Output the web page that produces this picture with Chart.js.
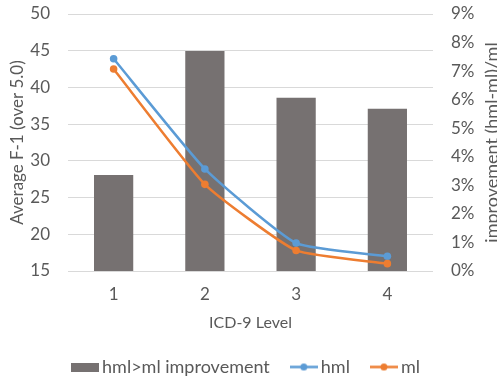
<!DOCTYPE html>
<html>
<head>
<meta charset="utf-8">
<script src="https://cdn.jsdelivr.net/npm/chart.js@4.4.1/dist/chart.umd.min.js"></script>
<style>
  html, body { margin: 0; padding: 0; background: #ffffff; }
  #wrap { width: 497px; height: 379px; }
</style>
</head>
<body>
<div id="wrap"><canvas id="chart" width="497" height="379"></canvas></div>
<script>
// -----------------------------
// Data
// -----------------------------
const levels = ['1', '2', '3', '4'];
const improvement = [0.0336, 0.077, 0.0607, 0.0568];
const hml = [43.9, 28.9, 18.8, 17.0];
const ml = [42.5, 26.8, 17.8, 16.0];
const leftTicks = [15, 50, 5];
const rightTicks = [0, 0.09, 0.01];

const FONT = 'Lato, "Open Sans", sans-serif';
const TEXT = '#595959';
const GRID = '#d9d9d9';
const BAR = '#767171';
const BLUE = '#5b9bd5';
const ORANGE = '#ed7d31';

// where things sit in the picture
const PLOT_TOP = 14;
const PLOT_BOTTOM = 271;
const XTITLE_Y = 323;
const LEGEND_Y = 367;
let xHeight = 80;

// -----------------------------
// Legend swatches
// -----------------------------
function barSwatch() {
    const c = document.createElement('canvas');
    c.width = 28; c.height = 9;
    const g = c.getContext('2d');
    g.fillStyle = BAR;
    g.fillRect(0, 0, 28, 9);
    return c;
}

function lineSwatch(color) {
    const c = document.createElement('canvas');
    c.width = 28; c.height = 9;
    const g = c.getContext('2d');
    g.strokeStyle = color;
    g.lineWidth = 2.5;
    g.beginPath();
    g.moveTo(0, 4.5);
    g.lineTo(28, 4.5);
    g.stroke();
    g.fillStyle = color;
    g.beginPath();
    g.arc(14, 4.5, 3.5, 0, Math.PI * 2);
    g.fill();
    return c;
}

// right axis title, rotated like the left one
const rightTitle = {
    id: 'rightTitle',
    afterDraw(chart) {
        const { ctx, chartArea } = chart;
        ctx.save();
        ctx.translate(492, (chartArea.top + chartArea.bottom) / 2);
        ctx.rotate(-Math.PI / 2);
        ctx.font = '18px ' + FONT;
        ctx.fillStyle = TEXT;
        ctx.textAlign = 'center';
        ctx.textBaseline = 'middle';
        ctx.fillText('improvement (hml-ml)/ml', 0, 0);
        ctx.restore();
    }
};

function fixY(width) {
    return scale => {
        scale.width = width;
        scale.paddingTop = 0;
        scale.paddingBottom = 0;
    };
}

// -----------------------------
// Chart
// -----------------------------
const font = { family: FONT, size: 17 };
const titleFont = { family: FONT, size: 16 };
const ctx = document.getElementById('chart').getContext('2d');
const chart = new Chart(ctx, {
    data: {
        labels: levels,
        datasets: [
            {
                type: 'bar',
                label: 'hml>ml improvement',
                data: improvement,
                backgroundColor: BAR,
                yAxisID: 'y1',
                categoryPercentage: 1,
                barPercentage: 0.43,
                order: 2
            },
            {
                type: 'line',
                label: 'hml',
                data: hml,
                borderColor: BLUE,
                backgroundColor: BLUE,
                borderWidth: 2.5,
                pointRadius: 3.8,
                pointBorderWidth: 0,
                tension: 0.15,
                yAxisID: 'y',
                order: 1
            },
            {
                type: 'line',
                label: 'ml',
                data: ml,
                borderColor: ORANGE,
                backgroundColor: ORANGE,
                borderWidth: 2.5,
                pointRadius: 3.8,
                pointBorderWidth: 0,
                tension: 0.15,
                yAxisID: 'y',
                order: 0
            }
        ]
    },
    options: {
        responsive: false,
        animation: false,
        layout: { padding: { top: PLOT_TOP, bottom: 0, left: 0, right: 0 } },
        plugins: {
            tooltip: { enabled: false },
            legend: {
                position: 'bottom',
                labels: {
                    font: { family: FONT, size: 18 },
                    color: TEXT,
                    usePointStyle: true,
                    pointStyleWidth: 16,
                    padding: 26,
                    generateLabels(chart) {
                        const styles = [barSwatch(), lineSwatch(BLUE), lineSwatch(ORANGE)];
                        return chart.data.datasets.map((ds, i) => ({
                            text: ds.label,
                            fillStyle: ds.backgroundColor,
                            strokeStyle: ds.backgroundColor,
                            lineWidth: 0,
                            pointStyle: styles[i],
                            fontColor: TEXT,
                            datasetIndex: i
                        }));
                    }
                }
            }
        },
        scales: {
            x: {
                grid: { display: false, drawTicks: false },
                border: { display: false },
                ticks: { color: TEXT, font, padding: 13.8 },
                title: {
                    display: true,
                    text: 'ICD-9 Level',
                    color: TEXT,
                    font: titleFont,
                    padding: { top: 0, bottom: 10 }
                },
                afterFit(scale) { scale.height = xHeight; }
            },
            y: {
                position: 'left',
                min: leftTicks[0],
                max: leftTicks[1],
                ticks: { stepSize: leftTicks[2], color: TEXT, font, padding: 18 },
                grid: { color: GRID, drawTicks: false },
                border: { display: false },
                title: {
                    display: true,
                    text: 'Average F-1 (over 5.0)',
                    color: TEXT,
                    font,
                    padding: { top: 7, bottom: 0 }
                },
                afterFit: fixY(68)
            },
            y1: {
                position: 'right',
                min: rightTicks[0],
                max: rightTicks[1],
                ticks: {
                    stepSize: rightTicks[2],
                    color: TEXT,
                    font,
                    padding: 18,
                    callback: v => Math.round(v * 100) + '%'
                },
                grid: { display: false, drawTicks: false },
                border: { display: false },
                afterFit: fixY(64)
            }
        }
    },
    plugins: [rightTitle]
});

// -----------------------------
// Settle the layout onto the reference positions
// -----------------------------
function legendCenter() {
    const box = chart.legend.legendHitBoxes[0];
    return box.top + box.height / 2;
}

const pad = chart.options.layout.padding;
pad.bottom -= LEGEND_Y - legendCenter();
pad.top += PLOT_TOP - chart.chartArea.top;
chart.update();

const legendTop = chart.legend.top;
xHeight = legendTop - PLOT_BOTTOM;
chart.options.scales.x.title.padding.bottom = legendTop - XTITLE_Y - titleFont.size * 1.2 / 2;
chart.update();
</script>
</body>
</html>
